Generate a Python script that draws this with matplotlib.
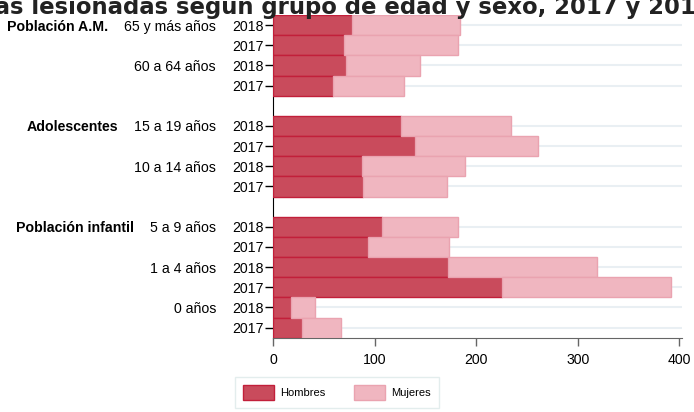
import matplotlib.pyplot as plt
import matplotlib.transforms as mtransforms
from matplotlib.patches import Patch

plt.rcParams["font.family"] = ["Liberation Sans", "DejaVu Sans"]

title = "Personas lesionadas según grupo de edad y sexo, 2017 y 2018"
groups = ["Población A.M.", "Adolescentes", "Población infantil"]
ages = ["65 y más años", "60 a 64 años", "15 a 19 años", "10 a 14 años",
        "5 a 9 años", "1 a 4 años", "0 años"]
age_group = [0, 0, 1, 1, 2, 2, 2]
years = ["2018", "2017"]

# one value per row, top to bottom (each age: 2018, 2017)
hombres = [78, 70, 72, 59, 126, 140, 88, 89, 107, 93, 172, 225, 18, 29]
mujeres = [106, 112, 73, 70, 108, 121, 101, 82, 75, 80, 147, 167, 23, 38]

c_h, c_h_edge = "#c94b5c", "#c21f3a"
c_m, c_m_edge = "#f0b6c0", "#eaa3b0"
fs = 10.2

# row positions with an empty slot between groups
pos, labels, age_pos = [], [], []
y = 0
for i, age in enumerate(ages):
    if i > 0 and age_group[i] != age_group[i - 1]:
        y += 1
    age_pos.append(y)
    for yr in years:
        pos.append(y)
        labels.append(yr)
        y += 1

fig = plt.figure(figsize=(6.94, 4.12), dpi=100)
ax = fig.add_axes([273 / 694, 1 - 337.7 / 412, (681.5 - 273) / 694, (337.7 - 15) / 412])

ax.barh(pos, hombres, height=1.0, color=c_h, edgecolor=c_h_edge, linewidth=1, zorder=3)
ax.barh(pos, mujeres, left=hombres, height=1.0, color=c_m, edgecolor=c_m_edge,
        linewidth=1, zorder=3)

ax.set_xlim(0, 402)
ax.set_ylim(y - 0.5, -0.5)
ax.set_yticks(pos)
ax.set_yticklabels(labels, fontsize=fs)
ax.set_xticks([0, 100, 200, 300, 400])
ax.tick_params(axis="y", length=6, width=1, pad=1, color="black")
ax.tick_params(axis="x", length=6, width=1, pad=5, color="#666666", labelsize=fs)
for yy in pos:
    ax.axhline(yy, color="#e9eff3", lw=1.5, zorder=1)
for s in ["top", "right"]:
    ax.spines[s].set_visible(False)
ax.spines["left"].set_color("black")
ax.spines["bottom"].set_color("#666666")

# age labels and group labels left of the year ticks
off = mtransforms.offset_copy(ax.get_yaxis_transform(), fig=fig, x=-57, y=0, units="dots")
age_texts = []
for age, yy in zip(ages, age_pos):
    t = ax.text(0, yy, age, transform=off, ha="right", va="center_baseline", fontsize=fs)
    age_texts.append(t)

fig.canvas.draw()
renderer = fig.canvas.get_renderer()
blend = mtransforms.blended_transform_factory(mtransforms.IdentityTransform(), ax.transData)
seen = set()
for i, t in enumerate(age_texts):
    g = age_group[i]
    if g in seen:
        continue
    seen.add(g)
    x0 = t.get_window_extent(renderer).x0
    ax.text(x0 - 16, age_pos[i], groups[g], transform=blend, ha="right",
            va="center_baseline", fontsize=fs, fontweight="bold")

# title is partly cut off at the top of the image
fig.text(712 / 694, 1 - 14 / 412, title, ha="right", va="baseline",
         fontsize=16.4, fontweight="bold", color="#222222",
         family=["DejaVu Sans"])

handles = [Patch(facecolor=c_h, edgecolor=c_h_edge, label="Hombres"),
           Patch(facecolor=c_m, edgecolor=c_m_edge, label="Mujeres")]
fig.legend(handles=handles, loc="lower left", bbox_to_anchor=(235 / 694, 4 / 412),
           ncol=2, fontsize=8, frameon=True, fancybox=False, edgecolor="#dde9e9",
           handlelength=2.8, handleheight=1.6, handletextpad=0.55, columnspacing=2.5,
           borderpad=0.75, borderaxespad=0)

fig.savefig("out.png", dpi=100)
